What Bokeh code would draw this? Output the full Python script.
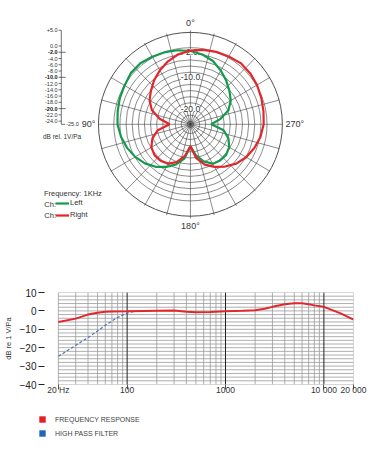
import math
from bokeh.plotting import figure
from bokeh.layouts import column
from bokeh.models import Range1d, Legend, LegendItem, FixedTicker
from bokeh.core.properties import value
from bokeh.embed import file_html
from bokeh.resources import INLINE

FONT = value("Liberation Sans")

# ---------------- polar pattern data (1 kHz) ----------------
# angle in degrees, counter-clockwise from 0 (front, top); 90 = left, 270 = right
angle_deg = [0, 10, 20, 30, 40, 50, 60, 70, 80, 90, 100, 110, 120, 130, 140, 150, 160, 170,
             180, 190, 200, 210, 220, 230, 240, 250, 260, 270, 280, 290, 300, 310, 320, 330, 340, 350]
left_db = [-1.6, -1.0, -0.5, -0.1, 0.4, 0.4, -0.2, -0.5, -0.9, -1.2, -2.0, -3.0, -4.2, -5.6, -7.3, -9.3, -11.4, -14.0,
           -18.0, -15.0, -12.4, -10.5, -9.9, -9.8, -10.4, -11.8, -14.0, -18.2, -15.0, -11.8, -9.8, -8.4, -6.8, -5.2, -3.5, -2.4]
right_db = [-1.5, -2.3, -3.6, -5.1, -6.6, -8.2, -9.6, -11.6, -14.8, -18.2, -14.2, -11.8, -10.3, -9.7, -9.8, -10.5, -12.2, -14.8,
            -18.0, -14.0, -11.3, -9.3, -7.4, -5.5, -4.0, -2.8, -1.8, -1.1, -0.8, -0.4, 0.1, 0.4, 0.5, 0.0, -0.4, -0.9]

ring_db = [5, 0, -2, -4, -6, -8, -10, -12, -14, -16, -18, -20, -22, -24]
spoke_deg = list(range(0, 360, 15))
scale_db = [5, 0, -2, -4, -6, -8, -10, -12, -14, -16, -18, -20, -22, -24]
scale_labels = ["+5.0", "0.0", "-2.0", "-4.0", "-6.0", "-8.0", "-10.0", "-12.0", "-14.0",
                "-16.0", "-18.0", "-20.0", "-22.0", "-24.0"]
scale_major = ["-2.0", "-10.0", "-20.0"]
ring_label_db = [-2, -10, -20]
ring_labels = ["-2.0", "-10.0", "-20.0"]
direction_labels = {0: "0°", 90: "90°", 180: "180°", 270: "270°"}

# ---------------- frequency response data ----------------
freq_hz = [20, 30, 40, 50, 60, 70, 100, 150, 200, 300, 400, 500, 700, 1000, 1500, 2000, 2500,
           3000, 4000, 5000, 6000, 7000, 8000, 10000, 15000, 20000]
resp_db = [-6.0, -4.2, -2.0, -1.0, -0.5, -0.3, -0.2, 0.0, 0.1, 0.2, -0.5, -0.7, -0.6, -0.2, 0.1, 0.4, 1.2,
           2.2, 3.6, 4.1, 4.1, 3.6, 3.0, 2.2, -1.5, -4.7]
hpf_hz = [20, 30, 40, 50, 60, 70, 80, 100, 120]
hpf_db = [-24.7, -18.7, -14.5, -10.9, -7.8, -5.5, -3.6, -1.1, -0.2]

ytick_db = [10, 0, -10, -20, -30, -40]
xtick_hz = [20, 100, 1000, 10000, 20000]
xtick_labels = ["20 Hz", "100", "1000", "10 000", "20 000"]
grid_db = list(range(-40, 12, 2))
grid_hz = [20, 30, 40, 50, 60, 70, 80, 90, 100, 200, 300, 400, 500, 600, 700, 800, 900,
           1000, 2000, 3000, 4000, 5000, 6000, 7000, 8000, 9000, 10000, 20000]
decade_hz = [100, 1000, 10000]

GREEN = "#149a4c"
RED = "#e3262b"
GRID = "#3c3c3c"
TXT = "#333333"

# shared left / right borders (column aligns the plot frames)
BL, BR = 31, 21
W = 374
PX0 = 8                 # page x of the figures' left edge
FL = PX0 + BL           # page x of the frames' left edge
CX, CY = 194.3, 123.8   # page position of the polar centre

# ---------------- polar figure ----------------
DB_LO, DB_HI = -25.0, 5.0
R = 94.0


def r_of(db):
    return (db - DB_LO) / (DB_HI - DB_LO) * R


def pol(db, deg):
    r = r_of(db)
    t = math.radians(deg)
    return -r * math.sin(t), r * math.cos(t)


H1 = 258
p1 = figure(width=W, height=H1,
            x_range=Range1d(FL - CX, PX0 + W - BR - CX),
            y_range=Range1d(CY - H1, CY),
            output_backend="svg", toolbar_location=None,
            min_border_left=BL, min_border_right=BR, min_border_top=0, min_border_bottom=0,
            x_axis_location=None, y_axis_location=None, outline_line_color=None)
p1.grid.visible = False

# rings and spokes
p1.circle(x=0, y=0, radius=[r_of(d) for d in ring_db[1:]], fill_color=None,
          line_color=GRID, line_width=0.6)
p1.circle(x=0, y=0, radius=r_of(ring_db[0]), fill_color=None, line_color=GRID, line_width=0.9)
sx = [pol(DB_HI, a)[0] for a in spoke_deg]
sy = [pol(DB_HI, a)[1] for a in spoke_deg]
p1.segment(x0=0, y0=0, x1=sx, y1=sy, line_color=GRID, line_width=0.6)

# ring labels
p1.text(x=0, y=[r_of(d) for d in ring_label_db], text=ring_labels, text_font=FONT,
        text_font_size="8.5px", text_color=TXT, text_align="center", text_baseline="middle",
        background_fill_color="white")

# direction labels
for a, lab in direction_labels.items():
    if a in (0, 180):
        x, y = pol(DB_HI + 2.3, a)
        align = "center"
    else:
        x, y = pol(DB_HI + 1.0, a)
        align = "right" if a == 90 else "left"
    p1.text(x=[x], y=[y], text=[lab], text_font=FONT, text_font_size="9px", text_color=TXT,
            text_align=align, text_baseline="middle")

# polar curves
gx = [pol(d, a)[0] for d, a in zip(left_db + left_db[:1], angle_deg + angle_deg[:1])]
gy = [pol(d, a)[1] for d, a in zip(left_db + left_db[:1], angle_deg + angle_deg[:1])]
rx = [pol(d, a)[0] for d, a in zip(right_db + right_db[:1], angle_deg + angle_deg[:1])]
ry = [pol(d, a)[1] for d, a in zip(right_db + right_db[:1], angle_deg + angle_deg[:1])]
g_r = p1.line(gx, gy, line_color=GREEN, line_width=2.2)
r_r = p1.line(rx, ry, line_color=RED, line_width=2.2)

# left dB scale
SCALE_X = 62.3 - CX
p1.segment(x0=[SCALE_X], y0=[r_of(DB_LO)], x1=[SCALE_X], y1=[r_of(DB_HI)], line_color=TXT, line_width=0.7)
minor_y = [r_of(d) for d, l in zip(scale_db, scale_labels) if l not in scale_major]
major_y = [r_of(d) for d, l in zip(scale_db, scale_labels) if l in scale_major]
p1.segment(x0=SCALE_X - 2.8, y0=minor_y, x1=SCALE_X, y1=minor_y, line_color=TXT, line_width=0.7)
p1.segment(x0=SCALE_X - 2.8, y0=major_y, x1=SCALE_X + 4.5, y1=major_y, line_color=TXT, line_width=0.7)
p1.segment(x0=[SCALE_X], y0=[r_of(DB_LO)], x1=[SCALE_X + 4.0], y1=[r_of(DB_LO)], line_color=TXT, line_width=0.7)
p1.text(x=SCALE_X - 3.8, y=minor_y,
        text=[l for l in scale_labels if l not in scale_major], text_font=FONT, text_font_size="5.5px",
        text_color=TXT, text_align="right", text_baseline="middle")
p1.text(x=SCALE_X - 3.8, y=major_y, text=scale_major, text_font=FONT, text_font_size="5.5px",
        text_font_style="bold", text_color="#111111", text_align="right", text_baseline="middle")
p1.text(x=[SCALE_X + 5.0], y=[r_of(DB_LO)], text=["-25.0"], text_font=FONT, text_font_size="5.5px",
        text_color=TXT, text_align="left", text_baseline="middle")
p1.text(x=[43.5 - CX], y=[CY - 136], text=["dB rel. 1V/Pa"], text_font=FONT, text_font_size="6.5px",
        text_color=TXT, text_align="left", text_baseline="middle")

# legend block
p1.text(x=[44.5 - CX], y=[CY - 192.5], text=["Frequency: 1KHz"], text_font=FONT, text_font_size="7.5px",
        text_color=TXT, text_align="left", text_baseline="middle")
p1.text(x=[45.0 - CX, 45.0 - CX], y=[CY - 204.3, CY - 215.3], text=["Ch:", "Ch:"], text_font=FONT,
        text_font_size="7.5px", text_color=TXT, text_align="left", text_baseline="middle")
leg1 = Legend(items=[LegendItem(label="Left", renderers=[g_r]), LegendItem(label="Right", renderers=[r_r])],
              location=(round(55.7 - FL), round(H1 - 219.3)), glyph_width=14, glyph_height=8, label_height=8,
              spacing=3, padding=0, margin=0, label_standoff=1, label_text_font="Liberation Sans",
              label_text_font_size="7.5px", label_text_color=TXT, border_line_color=None,
              background_fill_alpha=0)
p1.add_layout(leg1)

# ---------------- frequency response figure ----------------
DEC_PX = 100.5
f_left = 20 / 10 ** ((59.3 - FL) / DEC_PX)
p2 = figure(width=W, height=142, x_axis_type="log", x_range=Range1d(f_left, 20000), y_range=Range1d(-40, 10),
            output_backend="svg", toolbar_location=None, min_border_left=BL, min_border_right=BR,
            min_border_top=34, min_border_bottom=16, outline_line_color=None)
p2.grid.visible = False

minor_hz = [f for f in grid_hz if f not in decade_hz]
p2.segment(x0=minor_hz, y0=min(grid_db), x1=minor_hz, y1=max(grid_db), line_color="#9a9a9a", line_width=0.8)
p2.segment(x0=min(grid_hz), y0=grid_db, x1=max(grid_hz), y1=grid_db, line_color="#9a9a9a", line_width=0.8)
p2.segment(x0=decade_hz, y0=min(grid_db), x1=decade_hz, y1=max(grid_db), line_color="#222222", line_width=1.0)

p2.line(hpf_hz, hpf_db, line_color="#4a74b4", line_width=1.2, line_dash="3 2")
p2.line(freq_hz, resp_db, line_color=RED, line_width=2)

p2.yaxis.ticker = FixedTicker(ticks=ytick_db)
p2.yaxis.axis_line_color = None
p2.yaxis.major_tick_out = 0
p2.yaxis.major_tick_in = 6
p2.yaxis.minor_tick_out = 0
p2.yaxis.minor_tick_in = 0
p2.yaxis.major_tick_line_color = "#222222"
p2.yaxis.major_label_standoff = 2
p2.yaxis.major_label_text_font = "Liberation Sans"
p2.yaxis.major_label_text_font_size = "10px"
p2.yaxis.major_label_text_color = "#222222"
p2.yaxis.axis_label = "dB re 1 V/Pa"
p2.yaxis.axis_label_text_font = "Liberation Sans"
p2.yaxis.axis_label_text_font_size = "7.5px"
p2.yaxis.axis_label_text_font_style = "normal"
p2.yaxis.axis_label_text_color = TXT
p2.yaxis.axis_label_standoff = 4

p2.xaxis.ticker = FixedTicker(ticks=xtick_hz)
p2.xaxis.major_label_overrides = {f: l for f, l in zip(xtick_hz, xtick_labels)}
p2.xaxis.axis_line_color = None
p2.xaxis.major_tick_out = 5
p2.xaxis.major_tick_in = 0
p2.xaxis.minor_tick_out = 0
p2.xaxis.minor_tick_in = 0
p2.xaxis.major_tick_line_color = "#555555"
p2.xaxis.major_label_standoff = -5
p2.xaxis.major_label_text_font = "Liberation Sans"
p2.xaxis.major_label_text_font_size = "8.5px"
p2.xaxis.major_label_text_color = TXT

# ---------------- bottom legend ----------------
H3 = 58
nan = float("nan")
p3 = figure(width=W, height=H3, x_range=Range1d(0, 1), y_range=Range1d(0, 1),
            output_backend="svg", toolbar_location=None,
            min_border_left=BL, min_border_right=BR, min_border_top=0, min_border_bottom=0,
            x_axis_location=None, y_axis_location=None, outline_line_color=None)
p3.grid.visible = False
q1 = p3.quad(left=[nan], right=[nan], top=[nan], bottom=[nan], fill_color="#e31e24", line_color=None)
q2 = p3.quad(left=[nan], right=[nan], top=[nan], bottom=[nan], fill_color="#1f66b8", line_color=None)
leg3 = Legend(items=[LegendItem(label="FREQUENCY RESPONSE", renderers=[q1]),
                     LegendItem(label="HIGH PASS FILTER", renderers=[q2])],
              location=(max(0, round(38.5 - FL)), round(400 + H3 - 436.7)), glyph_width=8, glyph_height=8,
              label_height=8, spacing=6, padding=0, margin=0, label_standoff=9,
              label_text_font="Liberation Sans", label_text_font_size="7px", label_text_color="#444444",
              border_line_color=None, background_fill_alpha=0)
p3.add_layout(leg3)

layout = column(p1, p2, p3)
open("out.html", "w").write(file_html(layout, INLINE))
